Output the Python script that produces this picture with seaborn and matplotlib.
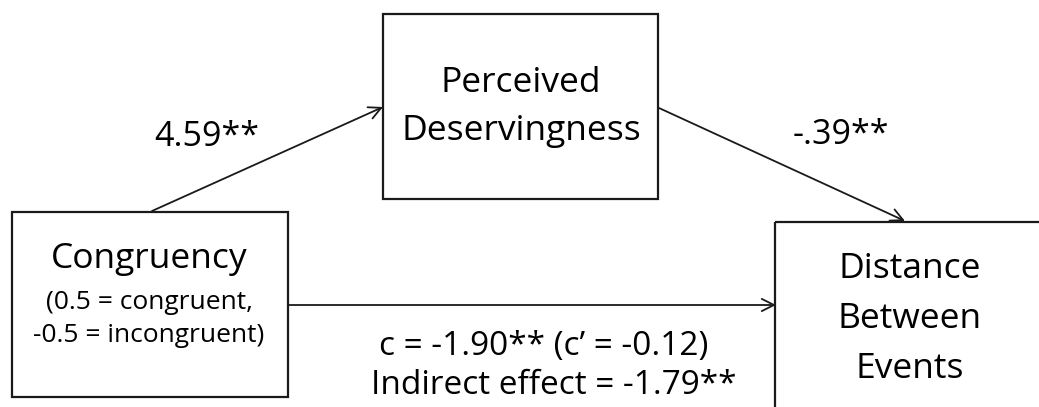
import matplotlib
matplotlib.use("Agg")
import matplotlib.pyplot as plt
from matplotlib.patches import Rectangle
import seaborn as sns

# ---- data (text content of the mediation diagram) ----
node_titles = ["Perceived\nDeservingness", "Congruency", "Distance\nBetween\nEvents"]
node_subtitles = ["", "(0.5 = congruent,\n-0.5 = incongruent)", ""]
path_labels = ["4.59**", "-.39**"]
direct_labels = ["c = -1.90** (c\u2019 = -0.12)", "Indirect effect = -1.79**"]

# ---- layout (pixel coordinates, y downwards) ----
W, H = 1039, 407
boxes = [(383, 14, 658, 199), (12, 212, 288, 397), (775, 222, 1050, 415)]
title_pos = [(521, 107), (149, 259), (910, 319)]
title_spacing = [1.55, 1.0, 1.6]
sub_pos = (149, 319)
arrows = [((152, 211), (383, 107)), ((659, 108), (905, 221)), ((288, 305), (776, 305))]
path_label_pos = [(207, 137), (841, 135)]
direct_label_pos = [(544, 346), (554, 385)]

sns.set_theme(style="white")
plt.rcParams["font.family"] = ["Open Sans", "DejaVu Sans"]

fig = plt.figure(figsize=(W / 100, H / 100), dpi=100)
ax = fig.add_axes([0, 0, 1, 1])
ax.set_xlim(0, W)
ax.set_ylim(H, 0)
ax.axis("off")

for (x0, y0, x1, y1) in boxes:
    ax.add_patch(Rectangle((x0, y0), x1 - x0, y1 - y0, fill=False,
                           edgecolor="#1a1a1a", linewidth=1.6, clip_on=True))

for (s, e) in arrows:
    ax.annotate("", xy=e, xytext=s,
                arrowprops=dict(arrowstyle="->", color="#1a1a1a", lw=1.3,
                                mutation_scale=22, shrinkA=0, shrinkB=0))

for t, (x, y), ls in zip(node_titles, title_pos, title_spacing):
    ax.text(x, y, t, ha="center", va="center", fontsize=25.5, color="black",
            linespacing=ls)

ax.text(sub_pos[0], sub_pos[1], node_subtitles[1], ha="center", va="center",
        fontsize=19, color="black", linespacing=1.38)

for t, (x, y) in zip(path_labels, path_label_pos):
    ax.text(x, y, t, ha="center", va="center", fontsize=24.5, color="black")

for t, (x, y) in zip(direct_labels, direct_label_pos):
    ax.text(x, y, t, ha="center", va="center", fontsize=24, color="black")

fig.savefig("out.png", dpi=100)
